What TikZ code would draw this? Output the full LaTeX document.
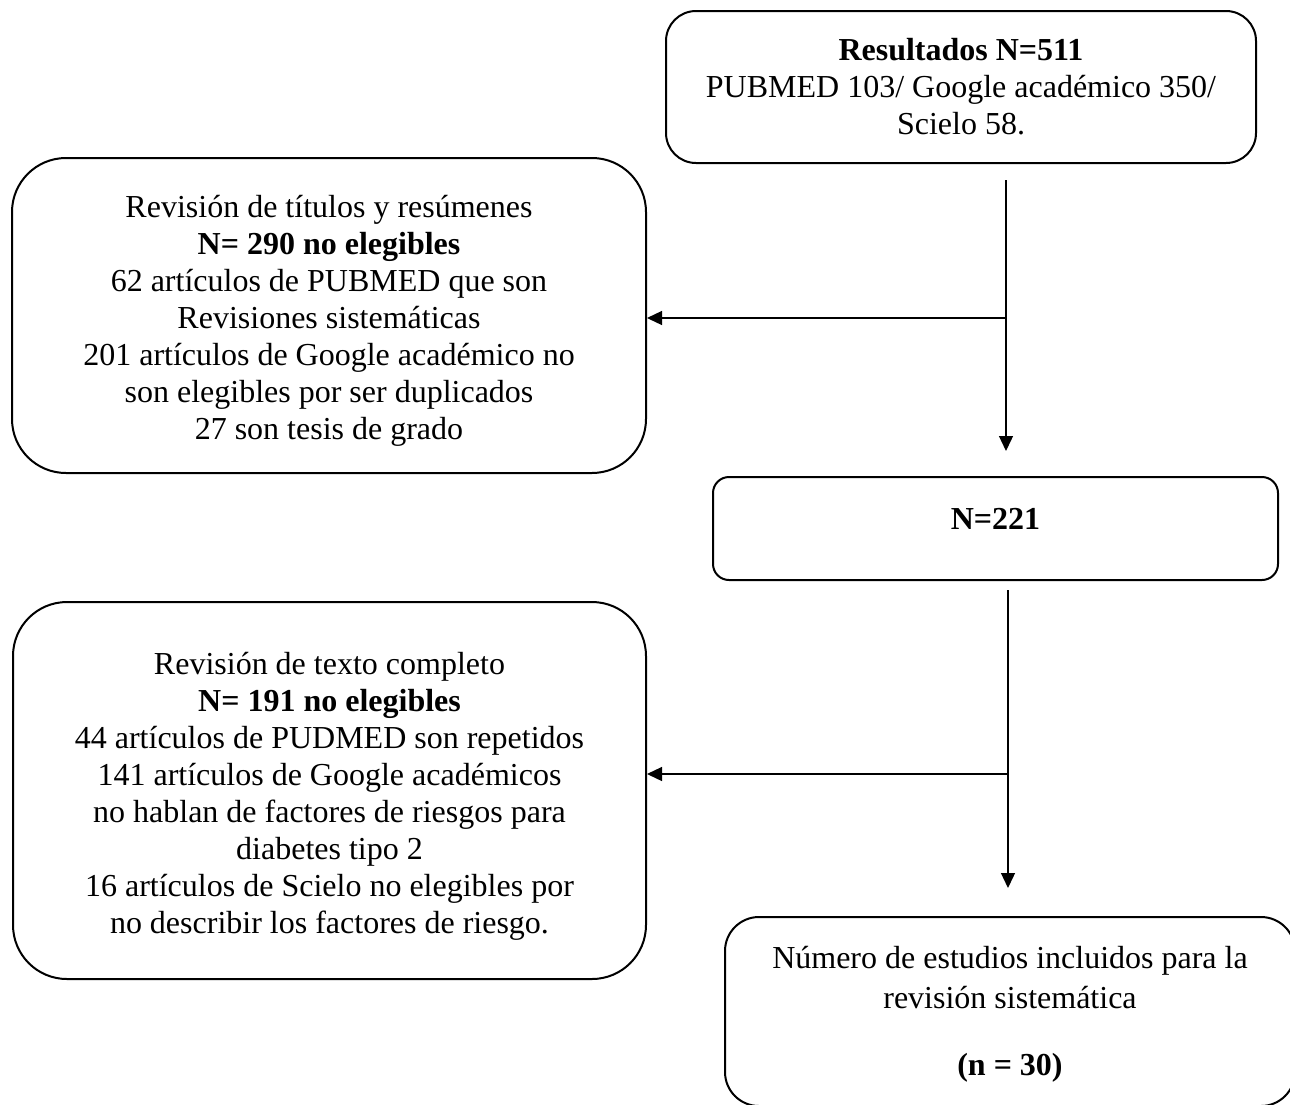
\documentclass[tikz,border=0pt]{standalone}
\usepackage{fontspec}
\setmainfont{Liberation Serif}
\usepackage{tikz}
\usetikzlibrary{positioning,arrows.meta}

\tikzset{
	box/.style={draw, line width=1pt, inner sep=0pt},
	txt/.style={align=center, inner sep=0pt, font=\fontsize{16}{18.5}\selectfont},
	arr/.style={line width=0.65pt, -{Triangle[length=7.5pt,width=7pt]}},
}

\begin{document}
\begin{tikzpicture}[x=0.5pt, y=-0.5pt]
		\useasboundingbox (0,0) rectangle (1290,1104);
		% cajas
		\node[box, rounded corners=15pt, minimum width=295pt, minimum height=76pt] (res) at (961,87) {};
		\node[box, rounded corners=27pt, minimum width=317pt, minimum height=157.5pt] (rev1) at (329,315.5) {};
		\node[box, rounded corners=8pt, minimum width=282.5pt, minimum height=51.5pt] (n221) at (995.5,528.5) {};
		\node[box, rounded corners=27pt, minimum width=316.5pt, minimum height=188.5pt] (rev2) at (329.5,790.5) {};
		\node[box, rounded corners=17pt, minimum width=285pt, minimum height=94.5pt] (incl) at (1010,1011.5) {};
		% textos
		\node[txt] (res-t) at (res.center)
			{\textbf{Resultados N=511}\\PUBMED 103/ Google académico 350/\\Scielo 58.};
		\node[txt, yshift=-2.5pt] (rev1-t) at (rev1.center)
			{Revisión de títulos y resúmenes\\\textbf{N= 290 no elegibles}\\62 artículos de PUBMED que son\\Revisiones sistemáticas\\201 artículos de Google académico no\\son elegibles por ser duplicados\\27 son tesis de grado};
		\node[txt, yshift=5pt] (n221-t) at (n221.center) {\textbf{N=221}};
		\node[txt, yshift=-3pt] (rev2-t) at (rev2.center)
			{Revisión de texto completo\\\textbf{N= 191 no elegibles}\\44 artículos de PUDMED son repetidos\\141 artículos de Google académicos\\no hablan de factores de riesgos para\\diabetes tipo 2\\16 artículos de Scielo no elegibles por\\no describir los factores de riesgo.};
		\node[txt, yshift=-1.5pt] (incl-t) at (incl.center)
			{Número de estudios incluidos para la\\[1.5pt]revisión sistemática\\[15pt]\textbf{(n = 30)}};
		% flechas
		\coordinate (s1) at (1006,180);
		\coordinate (b1) at (1006,318);
		\coordinate (t1) at (1006,451);
		\coordinate (s2) at (1008,590);
		\coordinate (b2) at (1008,774);
		\coordinate (t2) at (1008,888);
		\draw[arr] (s1) -- (t1);
		\draw[arr] (b1) -- (rev1.east |- b1);
		\draw[arr] (s2) -- (t2);
		\draw[arr] (b2) -- (rev2.east |- b2);
	\end{tikzpicture}
\end{document}
